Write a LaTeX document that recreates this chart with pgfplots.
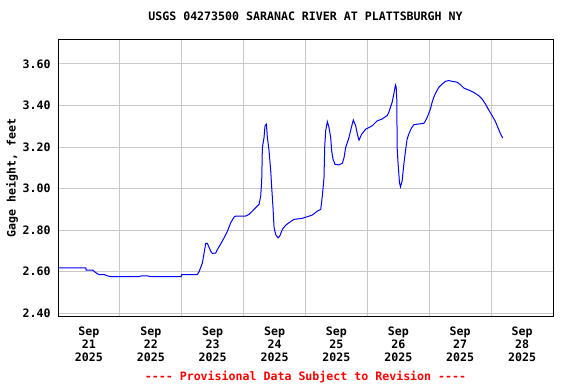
\documentclass[border=0pt]{standalone}
\usepackage{pgfplots}
\pgfplotsset{compat=1.18}
\usepackage{fontspec}
\newfontfamily\monob[BoldFont={DejaVu Sans Mono Bold}]{DejaVu Sans Mono}
\definecolor{gridgray}{RGB}{200,200,200}
\definecolor{lineblue}{RGB}{0,0,255}
\definecolor{provred}{RGB}{255,0,0}
\newcommand{\cf}{\fontsize{11.6bp}{13bp}\selectfont\monob\bfseries}
\begin{document}
\begin{tikzpicture}[x=1bp,y=1bp]
\useasboundingbox (0,0) rectangle (576,384);
\begin{axis}[
  at={(58bp,68bp)}, anchor=south west,
  scale only axis, width=495bp, height=276bp,
  xmin=0, xmax=8, ymin=2.387, ymax=3.715,
  axis line style={black, line width=1bp},
  xtick={0.5,1.5,2.5,3.5,4.5,5.5,6.5,7.5},
  xticklabels={Sep\\21\\2025,Sep\\22\\2025,Sep\\23\\2025,Sep\\24\\2025,Sep\\25\\2025,Sep\\26\\2025,Sep\\27\\2025,Sep\\28\\2025},
  minor xtick={1,2,3,4,5,6,7},
  xmajorgrids=false, xminorgrids=true,
  ytick={2.4,2.6,2.8,3.0,3.2,3.4,3.6},
  ymajorgrids=true,
  grid style={gridgray, line width=0.9bp},
  minor grid style={gridgray, line width=0.9bp},
  major tick length=0pt, minor tick length=0pt,
  yticklabel style={font=\cf, inner sep=0pt, anchor=east, xshift=-7.3bp,
    /pgf/number format/fixed, /pgf/number format/fixed zerofill,
    /pgf/number format/precision=2, /pgf/number format/assume math mode=true},
  xticklabel style={font=\cf, align=center, inner sep=0pt, anchor=north, yshift=-10.5bp},
  title={USGS 04273500 SARANAC RIVER AT PLATTSBURGH NY},
  title style={font=\cf, at={(axis description cs:0.5,1)}, anchor=base, yshift=13.6bp, inner sep=0pt},
  ylabel={Gage height, feet},
  ylabel style={font=\cf, at={(axis description cs:-0.0929,0.5)}, anchor=center, inner sep=0pt},
  xlabel={---- Provisional Data Subject to Revision ----},
  xlabel style={font=\cf, text=provred, at={(axis description cs:0.5,0)}, anchor=base, yshift=-64bp, inner sep=0pt},
  clip=true,
]
\addplot[lineblue, line width=1bp] coordinates {
(0,2.618) (0.45,2.618) (0.455,2.608) (0.56,2.608) (0.6,2.598) (0.64,2.59) (0.67,2.586) (0.75,2.586) (0.8,2.58) (0.86,2.576) (1.3,2.576) (1.35,2.58) (1.45,2.58) (1.5,2.576) (1.99,2.576) (2.0,2.586) (2.25,2.586) (2.28,2.60) (2.334,2.643) (2.361,2.69) (2.388,2.736) (2.415,2.736) (2.468,2.699) (2.495,2.688) (2.549,2.69) (2.576,2.707) (2.63,2.734) (2.684,2.763) (2.738,2.795) (2.792,2.836) (2.845,2.863) (2.872,2.868) (3.034,2.868) (3.088,2.876) (3.142,2.892) (3.195,2.908) (3.249,2.924) (3.276,2.964) (3.292,3.037) (3.303,3.198) (3.33,3.246) (3.346,3.302) (3.368,3.31) (3.384,3.246) (3.411,3.182) (3.438,3.085) (3.454,3.005) (3.475,2.908) (3.492,2.812) (3.519,2.779) (3.556,2.763) (3.583,2.771) (3.626,2.804) (3.68,2.824) (3.734,2.836) (3.815,2.852) (3.949,2.857) (4.03,2.865) (4.111,2.873) (4.192,2.892) (4.246,2.90) (4.272,2.964) (4.299,3.053) (4.31,3.198) (4.326,3.278) (4.353,3.322) (4.38,3.294) (4.407,3.246) (4.423,3.182) (4.445,3.141) (4.477,3.117) (4.542,3.114) (4.596,3.122) (4.623,3.149) (4.649,3.198) (4.703,3.246) (4.741,3.294) (4.773,3.33) (4.811,3.302) (4.838,3.262) (4.865,3.233) (4.908,3.262) (4.973,3.286) (5.077,3.302) (5.158,3.326) (5.239,3.335) (5.292,3.346) (5.319,3.351) (5.346,3.367) (5.373,3.391) (5.4,3.415) (5.427,3.455) (5.454,3.499) (5.465,3.49) (5.476,3.423) (5.481,3.198) (5.497,3.117) (5.519,3.029) (5.535,3.008) (5.562,3.037) (5.589,3.117) (5.616,3.182) (5.642,3.238) (5.669,3.262) (5.712,3.291) (5.75,3.307) (5.804,3.31) (5.912,3.314) (5.939,3.326) (5.966,3.343) (5.992,3.362) (6.019,3.383) (6.046,3.415) (6.073,3.439) (6.1,3.458) (6.154,3.487) (6.208,3.503) (6.262,3.516) (6.316,3.52) (6.369,3.516) (6.45,3.512) (6.504,3.50) (6.558,3.484) (6.639,3.474) (6.719,3.463) (6.8,3.447) (6.854,3.431) (6.908,3.407) (6.962,3.378) (7.016,3.351) (7.069,3.323) (7.113,3.291) (7.15,3.265) (7.188,3.243)
};
\end{axis}
\end{tikzpicture}
\end{document}
